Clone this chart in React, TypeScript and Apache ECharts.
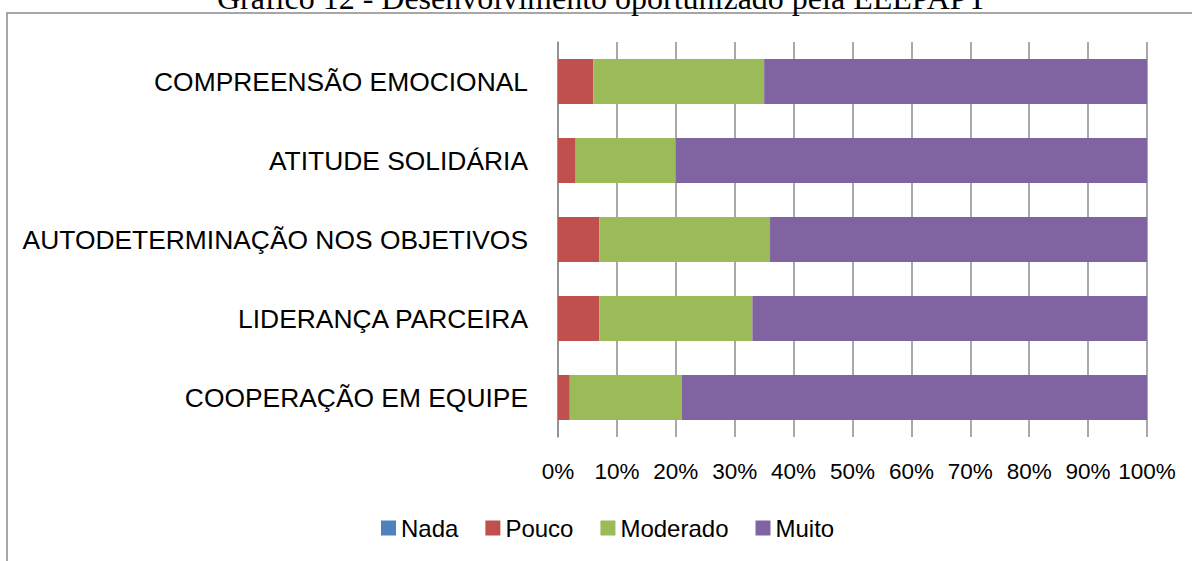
import React, { useEffect, useRef } from "react";
import * as echarts from "echarts";

const titleText = "Gráfico 12 - Desenvolvimento oportunizado pela EEEPAPT";
const categories = [
  "COMPREENSÃO EMOCIONAL",
  "ATITUDE SOLIDÁRIA",
  "AUTODETERMINAÇÃO NOS OBJETIVOS",
  "LIDERANÇA PARCEIRA",
  "COOPERAÇÃO EM EQUIPE",
];
const seriesNames = ["Nada", "Pouco", "Moderado", "Muito"];
const nada = [0, 0, 0, 0, 0];
const pouco = [6, 3, 7, 7, 2];
const moderado = [29, 17, 29, 26, 19];
const muito = [65, 80, 64, 67, 79];
const colors = ["#4F81BD", "#C0504D", "#9BBB59", "#8064A2"];

export default function App() {
  const ref = useRef<HTMLDivElement>(null);
  useEffect(() => {
    if (!ref.current) return;
    const chart = echarts.init(ref.current, null, { renderer: "svg" });
    const values = [nada, pouco, moderado, muito];
    chart.setOption({
      animation: false,
      backgroundColor: "#ffffff",
      textStyle: { fontFamily: "Liberation Sans" },
      graphic: [
        {
          type: "rect",
          shape: { x: 7, y: 13, width: 1400, height: 800 },
          style: { fill: "none", stroke: "#8a8a8a", lineWidth: 1.5 },
          silent: true,
        },
        {
          type: "text",
          x: 602,
          y: -2.5,
          style: {
            text: titleText,
            font: "32px 'Liberation Serif'",
            fill: "#000000",
            textAlign: "center",
            textVerticalAlign: "middle",
          },
          silent: true,
        },
      ],
      legend: {
        data: seriesNames,
        left: 376,
        top: 511,
        itemWidth: 15,
        itemHeight: 15,
        itemGap: 27,
        icon: "rect",
        textStyle: { fontSize: 24, color: "#000000", fontFamily: "Liberation Sans" },
      },
      grid: { left: 558, right: 45, top: 42, bottom: 124, containLabel: false },
      xAxis: {
        type: "value",
        min: 0,
        max: 100,
        interval: 10,
        axisLine: { show: false },
        axisTick: { show: false },
        splitLine: { show: true, lineStyle: { color: "#8c8c8c", width: 1.5 } },
        axisLabel: {
          formatter: "{value}%",
          fontSize: 22.5,
          color: "#000000",
          margin: 23,
          fontFamily: "Liberation Sans",
        },
      },
      yAxis: {
        type: "category",
        data: categories,
        inverse: true,
        axisLine: { show: true, lineStyle: { color: "#8c8c8c", width: 1.5 } },
        axisTick: { show: false },
        axisLabel: { fontSize: 26.4, color: "#000000", margin: 30, fontFamily: "Liberation Sans" },
      },
      series: seriesNames.map((name, i) => ({
        name,
        type: "bar",
        stack: "total",
        barWidth: 45,
        data: values[i],
        itemStyle: { color: colors[i] },
      })),
    });
    return () => chart.dispose();
  }, []);
  return (
    <div
      ref={ref}
      style={{ position: "fixed", left: 0, top: 0, width: 1192, height: 561 }}
    />
  );
}
